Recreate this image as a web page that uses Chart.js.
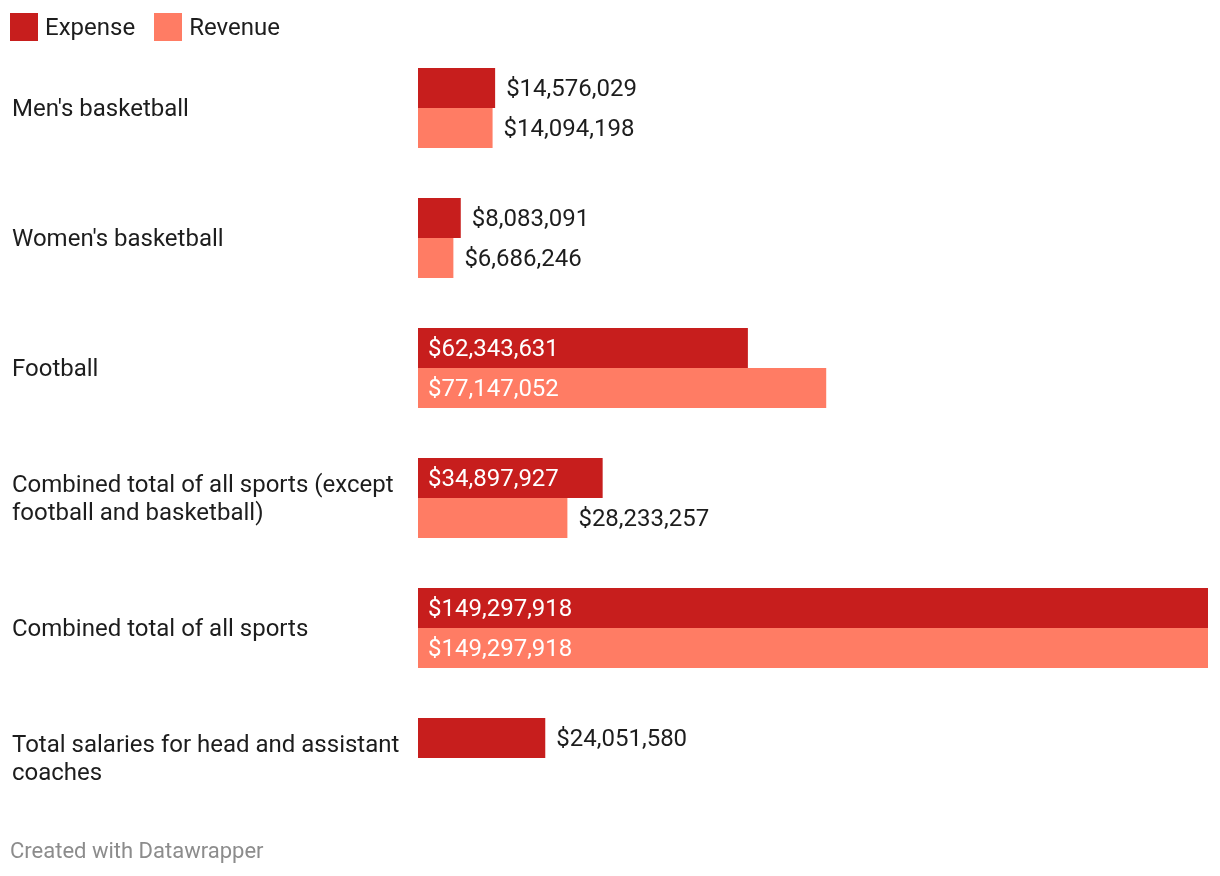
<!DOCTYPE html>
<html>
<head>
<meta charset="utf-8">
<script src="https://cdn.jsdelivr.net/npm/chart.js@4/dist/chart.umd.min.js"></script>
<style>
  html, body { margin: 0; padding: 0; background: #fff; }
  body { width: 1220px; height: 876px; position: relative; overflow: hidden; font-family: Roboto, sans-serif; }
  #wrap { position: absolute; left: 0; top: 0; width: 1220px; height: 876px; }
  .legend { position: absolute; top: 13px; left: 10px; display: flex; align-items: center; font-size: 24px; color: #1d1d1d; line-height: 28px; }
  .legend .item { display: flex; align-items: center; margin-right: 19px; }
  .legend .sw { width: 28px; height: 28px; margin-right: 7px; }
  .footer { position: absolute; left: 10px; top: 837px; font-size: 22px; line-height: 28px; color: #8c8c8c; }
</style>
</head>
<body>
<div id="wrap"><canvas id="c" width="1220" height="876"></canvas></div>
<div class="legend" id="legend"></div>
<div class="footer">Created with Datawrapper</div>
<script>
const categories = [
  "Men's basketball",
  "Women's basketball",
  "Football",
  ["Combined total of all sports (except", "football and basketball)"],
  "Combined total of all sports",
  ["Total salaries for head and assistant", "coaches"]
];
const seriesNames = ["Expense", "Revenue"];
const expenseValues = [14576029, 8083091, 62343631, 34897927, 149297918, 24051580];
const revenueValues = [14094198, 6686246, 77147052, 28233257, 149297918, null];
const seriesColors = ["#c71e1d", "#ff7c64"];

// HTML legend
const lg = document.getElementById('legend');
seriesNames.forEach((n, i) => {
  const it = document.createElement('div'); it.className = 'item';
  const sw = document.createElement('div'); sw.className = 'sw'; sw.style.background = seriesColors[i];
  const tx = document.createElement('span'); tx.textContent = n;
  it.appendChild(sw); it.appendChild(tx); lg.appendChild(it);
});

const fmt = v => '$' + v.toLocaleString('en-US');

const valueLabels = {
  id: 'valueLabels',
  afterDatasetsDraw(chart) {
    const ctx = chart.ctx;
    ctx.save();
    ctx.font = '24px Roboto, sans-serif';
    ctx.textBaseline = 'middle';
    ctx.textAlign = 'left';
    chart.data.datasets.forEach((ds, di) => {
      const meta = chart.getDatasetMeta(di);
      meta.data.forEach((el, i) => {
        const v = ds.data[i];
        if (v === null || v === undefined) return;
        const txt = fmt(v);
        const w = ctx.measureText(txt).width;
        const barW = el.x - el.base;
        if (w + 22 < barW) {
          ctx.fillStyle = '#ffffff';
          ctx.fillText(txt, el.base + 10, el.y + 2);
        } else {
          ctx.fillStyle = '#1d1d1d';
          ctx.fillText(txt, el.x + 11, el.y + 2);
        }
      });
    });
    ctx.restore();
  }
};

new Chart(document.getElementById('c'), {
  type: 'bar',
  data: {
    labels: categories,
    datasets: [
      { label: seriesNames[0], data: expenseValues, backgroundColor: seriesColors[0], borderWidth: 0 },
      { label: seriesNames[1], data: revenueValues, backgroundColor: seriesColors[1], borderWidth: 0 }
    ]
  },
  options: {
    indexAxis: 'y',
    responsive: false,
    animation: false,
    events: [],
    categoryPercentage: 80 / 130,
    barPercentage: 1,
    layout: { padding: { top: 43, bottom: 53, left: 12, right: 12 } },
    plugins: { legend: { display: false }, tooltip: { enabled: false } },
    scales: {
      x: { display: false, min: 0, max: 149297918 },
      y: {
        grid: { display: false, drawTicks: false },
        border: { display: false },
        ticks: {
          crossAlign: 'far',
          color: '#1d1d1d',
          font: { family: 'Roboto, sans-serif', size: 24, lineHeight: 1.15 },
          padding: 0,
          labelOffset: 2
        },
        afterFit(scale) { scale.width = 406; }
      }
    }
  },
  plugins: [valueLabels]
});
</script>
</body>
</html>
